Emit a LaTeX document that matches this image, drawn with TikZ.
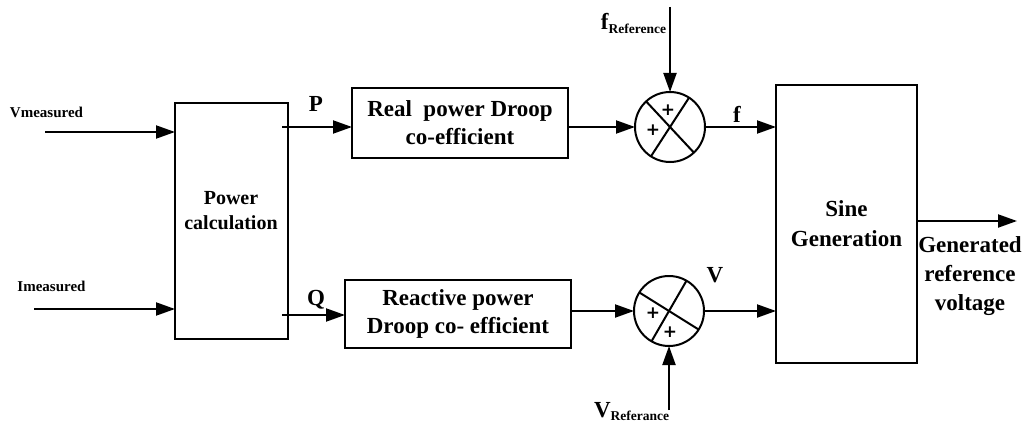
\documentclass[tikz,border=0pt]{standalone}
\usepackage{fontspec}
\setmainfont{Liberation Serif}
\newfontfamily\plusfont{DejaVu Sans}
\usetikzlibrary{arrows.meta,calc}
\begin{document}
\begin{tikzpicture}[x=1pt,y=-1pt,line width=2pt,
  box/.style={draw,line width=2pt,inner sep=0pt,outer sep=0pt,align=center},
  big/.style={font=\fontsize{23}{28}\selectfont\bfseries},
  arr/.style={-{Triangle[length=19pt,width=13pt]}},
  sumj/.style={draw,circle,minimum size=70pt,inner sep=0pt,outer sep=0pt,line width=2pt},
  lbl/.style={inner sep=0pt,font=\fontsize{23}{28}\selectfont\bfseries},
  small/.style={inner sep=0pt,font=\fontsize{15}{18}\selectfont\bfseries},
  plus/.style={inner sep=0pt,font=\plusfont\fontsize{17}{17}\selectfont\bfseries}]
\useasboundingbox (0,0) rectangle (1027,425);

% blocks
\node[box,minimum width=113pt,minimum height=236pt] (pc) at (231.5,221) {};
\node[inner sep=0pt,align=center,font=\fontsize{20}{25}\selectfont\bfseries] (pct) at (231,210.5) {Power\\calculation};
\node[box,big,minimum width=216pt,minimum height=70pt] (rp) at (460,123) {Real\ \ power Droop\\co-efficient};
\node[box,big,minimum width=226pt,minimum height=68pt] (qp) at (458,314) {Reactive power\\Droop co- efficient};
\node[box,font=\fontsize{23}{30}\selectfont\bfseries,minimum width=141pt,minimum height=278pt] (sg) at (846.5,224) {Sine\\Generation};

% summing junctions
\node[sumj] (s1) at (670,127) {};
\node[sumj] (s2) at (669,311) {};
\draw (s1.133) -- (s1.313);
\draw (s1.57) -- (s1.237);
\draw (s2.148) -- (s2.328);
\draw (s2.60) -- (s2.240);
\node[plus] (p1a) at ($(s1)+(-2,-17)$) {+};
\node[plus] (p1b) at ($(s1)+(-17,3)$) {+};
\node[plus] (p2a) at ($(s2)+(-16,2)$) {+};
\node[plus] (p2b) at ($(s2)+(1,21)$) {+};

% coordinates for free ends
\coordinate (vmS) at (45,132);
\coordinate (imS) at (34,309);
\coordinate (pOut) at (282,127);
\coordinate (qOut) at (282,315);
\coordinate (out) at (1017,221);
\coordinate (fr) at (670,7);
\coordinate (vr) at (669,410);

% connectors
\draw[arr] (vmS) -- (vmS -| pc.west);
\draw[arr] (imS) -- (imS -| pc.west);
\draw[arr] (pOut) -- (pOut -| rp.west);
\draw[arr] (qOut) -- (qOut -| qp.west);
\draw[arr] (rp.east |- s1) -- (s1.west);
\draw[arr] (qp.east |- s2) -- (s2.west);
\draw[arr] (s1.east) -- (s1.east -| sg.west);
\draw[arr] (s2.east) -- (s2.east -| sg.west);
\draw[arr] (sg.east |- out) -- (out);
\draw[arr] (fr) -- (s1.north);
\draw[arr] (vr) -- (s2.south);

% labels
\node[small] (vml) at (46.5,112) {Vmeasured};
\node[small] (iml) at (51.5,286) {Imeasured};
\node[lbl,anchor=base] (pl) at (316,112) {P};
\node[lbl,anchor=base] (ql) at (316,305) {Q};
\node[lbl,anchor=base] (fl) at (737,122) {f};
\node[lbl,anchor=base] (vl) at (715,282) {V};
\node[lbl,anchor=base east] (frl) at (667,30) {f\raisebox{-4pt}{\fontsize{13.5}{15}\selectfont Reference}};
\node[lbl,anchor=base west] (vrl) at (593,417) {V\raisebox{-3pt}{\fontsize{13.5}{15}\selectfont Referance}};
\node[inner sep=0pt,align=center,font=\fontsize{23}{29}\selectfont\bfseries] (gen) at (970,276) {Generated\\reference\\voltage};
\end{tikzpicture}
\end{document}
